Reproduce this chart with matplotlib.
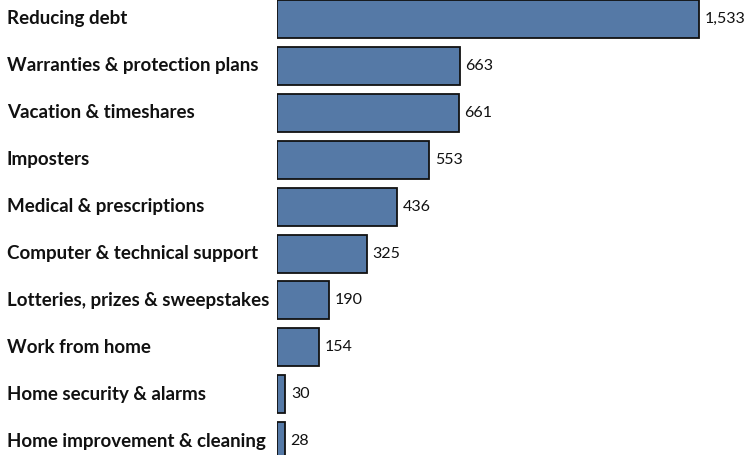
import matplotlib.pyplot as plt
import matplotlib.transforms as mtransforms

categories = ["Reducing debt", "Warranties & protection plans", "Vacation & timeshares",
              "Imposters", "Medical & prescriptions", "Computer & technical support",
              "Lotteries, prizes & sweepstakes", "Work from home",
              "Home security & alarms", "Home improvement & cleaning"]
values = [1533, 663, 661, 553, 436, 325, 190, 154, 30, 28]

plt.rcParams['font.family'] = ['Lato', 'DejaVu Sans']

fig = plt.figure(figsize=(7.53, 4.55), dpi=100)
ax = fig.add_axes([277 / 753, 0, 476 / 753, 1])
y = list(range(len(categories)))
ax.barh(y, values, height=0.81, color='#5579a6', edgecolor='#111111', linewidth=1.3)

ax.set_xlim(0, 476 / 0.2755)
ax.set_ylim(9.296, -0.405)
ax.axis('off')

trans = mtransforms.blended_transform_factory(fig.transFigure, ax.transData)
for i, (c, v) in enumerate(zip(categories, values)):
    ax.text(7 / 753, i, c, transform=trans, ha='left', va='center',
            fontsize=13.5, fontweight='bold', color='#111111')
    ax.text(v + 20, i, f"{v:,}", ha='left', va='center', fontsize=11.5, color='#111111')

fig.savefig('out.png', dpi=100)
